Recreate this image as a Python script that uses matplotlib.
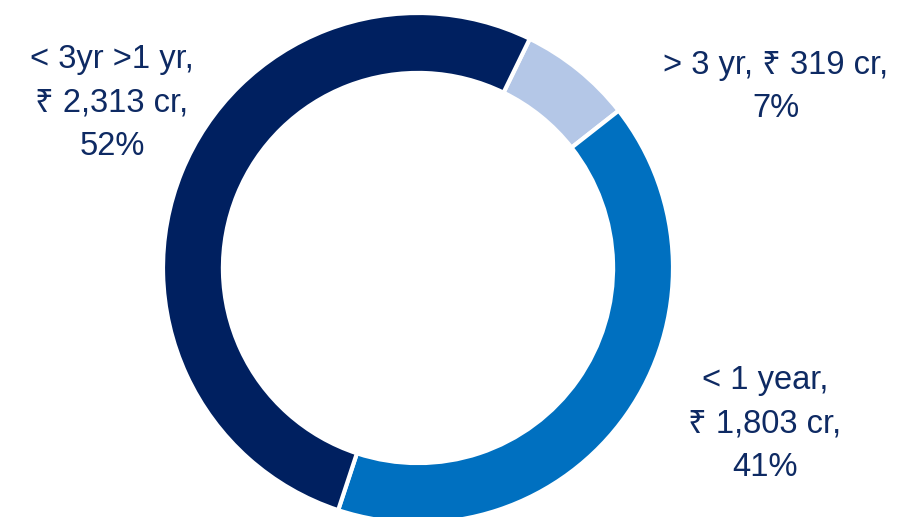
import matplotlib
matplotlib.use("Agg")
import matplotlib.pyplot as plt

categories = ["> 3 yr", "< 1 year", "< 3yr >1 yr"]
values = [319, 1803, 2313]
percents = ["7%", "41%", "52%"]
colors = ["#B4C7E7", "#0070C0", "#002060"]

plt.rcParams['font.family'] = ['Liberation Sans', 'Noto Sans', 'DejaVu Sans']

fig = plt.figure(figsize=(9.23, 5.17), dpi=100)
W, H = 923, 517
ax = fig.add_axes([163 / W, (H - 523) / H, 510 / W, 510 / H])
ax.pie(values, colors=colors, startangle=64, counterclock=False, radius=1.0,
       wedgeprops=dict(width=0.235, edgecolor="white", linewidth=3))
ax.set_xlim(-1, 1)
ax.set_ylim(-1, 1)
ax.set_aspect("equal")
ax.axis("off")

tc = "#0E2A63"
fs = 23.5

def lab(x, y, text):
    fig.text(x / W, 1 - y / H, text, ha="center", va="center", fontsize=fs,
             color=tc, linespacing=1.53)

lab(112, 103, f"{categories[2]},\n₹ {values[2]:,} cr,\n{percents[2]}")
lab(776, 87, f"{categories[0]}, ₹ {values[0]:,} cr,\n{percents[0]}")
lab(765, 424, f"{categories[1]},\n₹ {values[1]:,} cr,\n{percents[1]}")

fig.savefig("out.png", dpi=100)
